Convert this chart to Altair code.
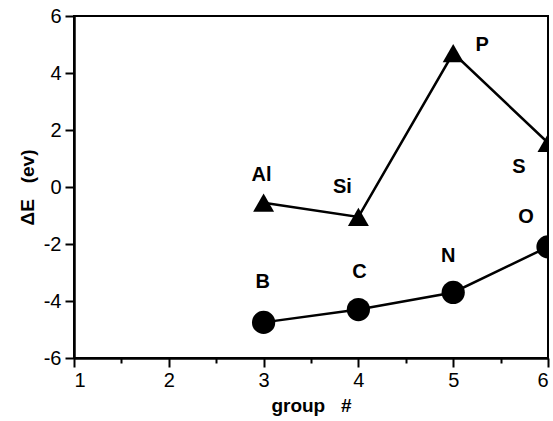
import altair as alt
import pandas as pd

# Data
groups_tri = [3, 4, 5, 6]
values_tri = [-0.55, -1.05, 4.7, 1.55]
names_tri = ["Al", "Si", "P", "S"]

groups_circ = [3, 4, 5, 6]
values_circ = [-4.75, -4.3, -3.7, -2.1]
names_circ = ["B", "C", "N", "O"]

x_ticks = [1, 1.5, 2, 2.5, 3, 3.5, 4, 4.5, 5, 5.5, 6]
y_ticks = [-6, -5, -4, -3, -2, -1, 0, 1, 2, 3, 4, 5, 6]

tri = pd.DataFrame({"group": groups_tri, "dE": values_tri, "name": names_tri})
circ = pd.DataFrame({"group": groups_circ, "dE": values_circ, "name": names_circ})
alldf = pd.concat([tri, circ], ignore_index=True)

FONT = "Liberation Sans"
NB = "\u00a0"

xs = alt.Scale(domain=[1, 6], nice=False, zero=False)
ys = alt.Scale(domain=[-6, 6], nice=False, zero=False)

X = alt.X("group:Q", scale=xs, axis=alt.Axis(
    values=x_ticks, title="group" + NB * 3 + "#", grid=False,
    labelExpr="datum.value % 1 ? '' : '' + datum.value",
    tickSize={"condition": {"test": "datum.value % 1 !== 0", "value": 5}, "value": 9},
    tickColor="black", tickWidth=2, domainColor="black", domainWidth=2.5,
    labelFont=FONT, labelFontSize=20, labelColor="black", labelPadding=3,
    titleFont=FONT, titleFontSize=19, titleFontWeight="bold", titleColor="black",
    titlePadding=6))
Y = alt.Y("dE:Q", scale=ys, axis=alt.Axis(
    values=y_ticks, title="ΔE" + NB * 3 + "(ev)", grid=False,
    labelExpr="datum.value % 2 ? '' : '' + datum.value",
    tickSize={"condition": {"test": "datum.value % 2 !== 0", "value": 5}, "value": 9},
    tickColor="black", tickWidth=2, domainColor="black", domainWidth=2.5,
    labelFont=FONT, labelFontSize=20, labelColor="black", labelPadding=4,
    titleFont=FONT, titleFontSize=19, titleFontWeight="bold", titleColor="black",
    titlePadding=6))

tri_line = alt.Chart(tri).mark_line(color="black", strokeWidth=2.5, clip=True).encode(x=X, y=Y)
tri_pts = alt.Chart(tri).mark_point(shape="triangle-up", filled=True, color="black",
                                    opacity=1, size=440, clip=True).encode(x="group:Q", y="dE:Q")
circ_line = alt.Chart(circ).mark_line(color="black", strokeWidth=2.5, clip=True).encode(x="group:Q", y="dE:Q")
circ_pts = alt.Chart(circ).mark_point(shape="circle", filled=True, color="black",
                                      opacity=1, size=540, clip=True).encode(x="group:Q", y="dE:Q")


def label(name, dx, dy):
    return alt.Chart(alldf).transform_filter(alt.datum.name == name).mark_text(
        font=FONT, fontSize=20, fontWeight="bold", color="black",
        align="center", baseline="middle", dx=dx, dy=dy
    ).encode(x="group:Q", y="dE:Q", text="name:N")


labels = [
    label("Al", -2, -28),
    label("Si", -16, -30),
    label("P", 29, -8),
    label("S", -29, 24),
    label("B", -1, -40),
    label("C", 1, -38),
    label("N", -5, -36),
    label("O", -22, -30),
]

chart = alt.layer(tri_line, circ_line, tri_pts, circ_pts, *labels).properties(
    width=474, height=342,
    autosize=alt.AutoSizeParams(type="none"),
    padding={"left": 74, "top": 16, "right": 5, "bottom": 63},
    background="white",
).configure_view(stroke="black", strokeWidth=2)

chart.save("out.html", embed_options={"renderer": "svg", "actions": False})
